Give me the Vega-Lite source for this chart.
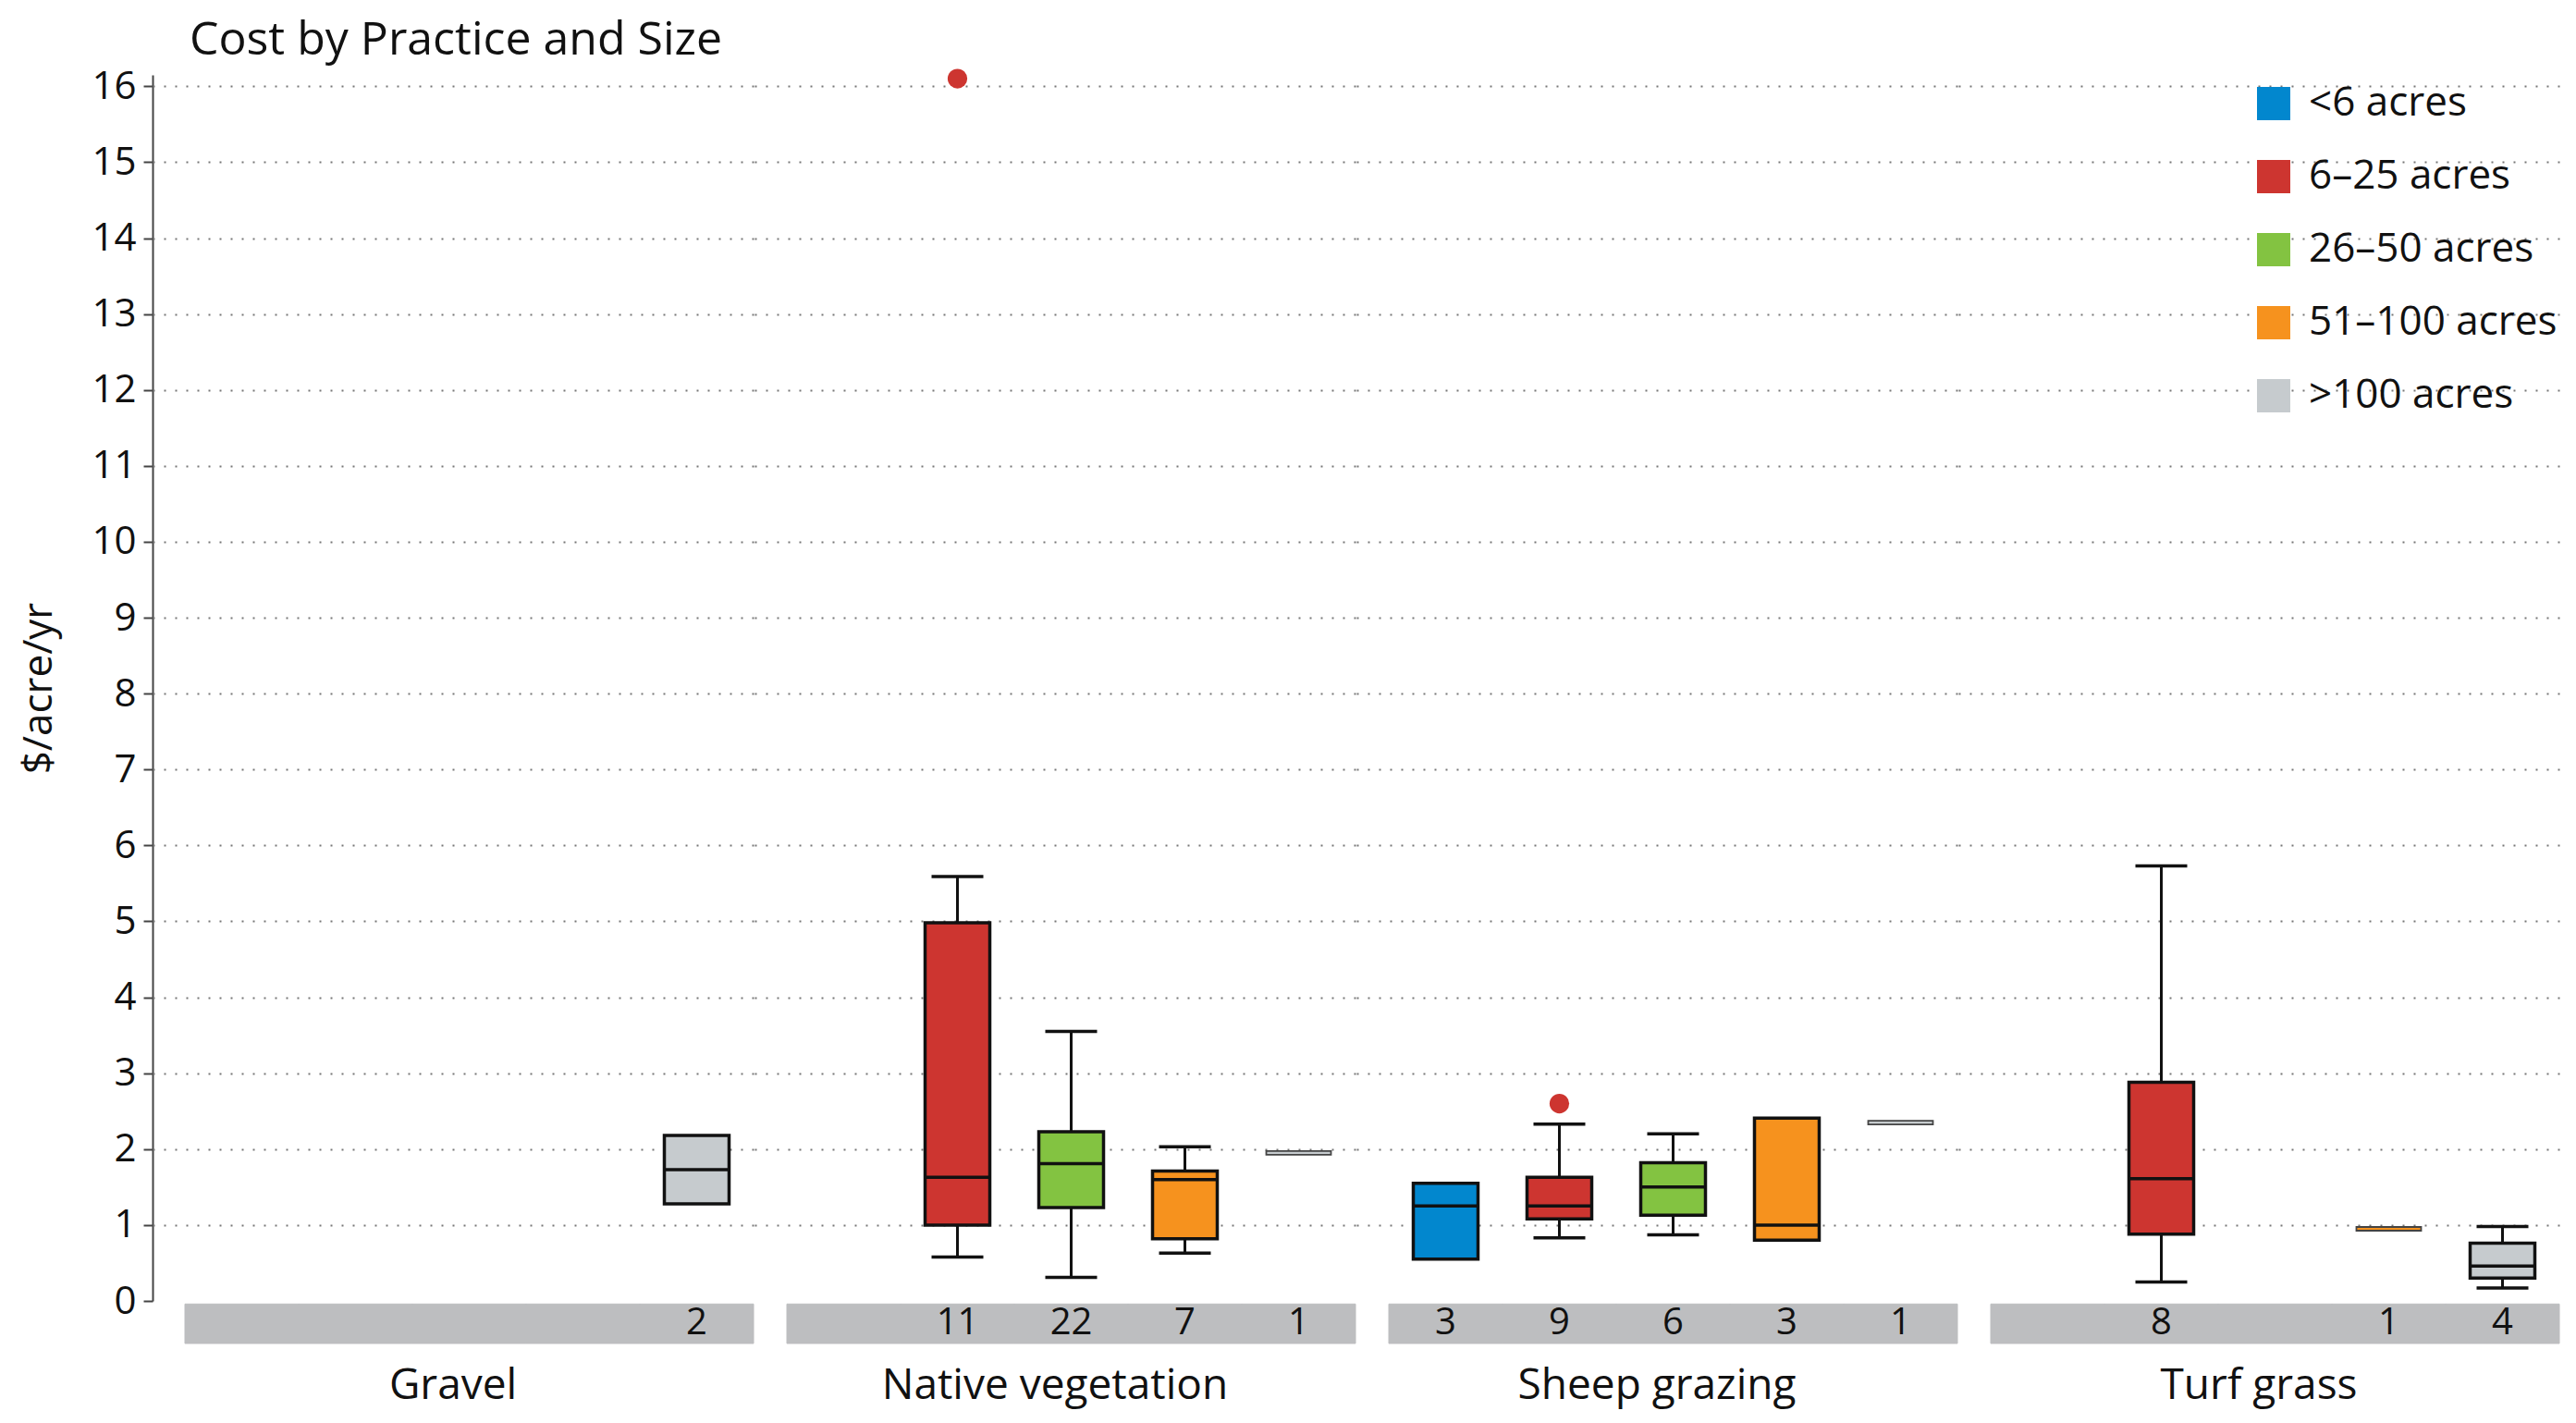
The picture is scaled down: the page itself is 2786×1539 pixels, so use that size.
{
  "$schema": "https://vega.github.io/schema/vega-lite/v6.json",
  "padding": {"left": 20, "top": 19, "right": 9, "bottom": 10},
  "background": "white",
  "config": {
    "font": "Open Sans",
    "view": {"stroke": null},
    "axisY": {
      "grid": true,
      "gridDash": [2, 10],
      "gridColor": "#777",
      "gridWidth": 2,
      "domainColor": "#444",
      "domainWidth": 2,
      "tickColor": "#444",
      "tickWidth": 2,
      "tickSize": 10,
      "labelFontSize": 42,
      "labelColor": "#111",
      "labelPadding": 8,
      "titleFontSize": 44,
      "titleFontWeight": "normal",
      "titleColor": "#111",
      "titlePadding": 34
    }
  },
  "title": {
    "text": "Cost by Practice and Size",
    "anchor": "start",
    "fontSize": 50,
    "fontWeight": "normal",
    "color": "#111",
    "offset": 3,
    "dx": 184
  },
  "data": {
    "values": [
      {"practice": "Gravel", "size": "<6 acres"},
      {"practice": "Gravel", "size": "6–25 acres"},
      {"practice": "Gravel", "size": "26–50 acres"},
      {"practice": "Gravel", "size": "51–100 acres"},
      {"practice": "Gravel", "size": ">100 acres", "n": 2, "q1": 1.28, "med": 1.73, "q3": 2.18},
      {"practice": "Native vegetation", "size": "<6 acres"},
      {"practice": "Native vegetation", "size": "6–25 acres", "n": 11, "lo": 0.58, "q1": 1.0, "med": 1.63, "q3": 4.98, "hi": 5.59, "outlier": 16.1},
      {"practice": "Native vegetation", "size": "26–50 acres", "n": 22, "lo": 0.31, "q1": 1.23, "med": 1.81, "q3": 2.23, "hi": 3.55},
      {"practice": "Native vegetation", "size": "51–100 acres", "n": 7, "lo": 0.63, "q1": 0.82, "med": 1.6, "q3": 1.71, "hi": 2.03},
      {"practice": "Native vegetation", "size": ">100 acres", "n": 1, "med": 1.95},
      {"practice": "Sheep grazing", "size": "<6 acres", "n": 3, "q1": 0.55, "med": 1.25, "q3": 1.55},
      {"practice": "Sheep grazing", "size": "6–25 acres", "n": 9, "lo": 0.83, "q1": 1.08, "med": 1.25, "q3": 1.63, "hi": 2.33, "outlier": 2.6},
      {"practice": "Sheep grazing", "size": "26–50 acres", "n": 6, "lo": 0.87, "q1": 1.13, "med": 1.5, "q3": 1.82, "hi": 2.2},
      {"practice": "Sheep grazing", "size": "51–100 acres", "n": 3, "q1": 0.8, "med": 1.0, "q3": 2.41},
      {"practice": "Sheep grazing", "size": ">100 acres", "n": 1, "med": 2.35},
      {"practice": "Turf grass", "size": "<6 acres"},
      {"practice": "Turf grass", "size": "6–25 acres", "n": 8, "lo": 0.25, "q1": 0.88, "med": 1.61, "q3": 2.88, "hi": 5.73},
      {"practice": "Turf grass", "size": "26–50 acres"},
      {"practice": "Turf grass", "size": "51–100 acres", "n": 1, "med": 0.95},
      {"practice": "Turf grass", "size": ">100 acres", "n": 4, "lo": 0.17, "q1": 0.3, "med": 0.46, "q3": 0.76, "hi": 0.98}
    ]
  },
  "spacing": 0,
  "facet": {
    "column": {
      "field": "practice",
      "type": "nominal",
      "header": {
        "title": null,
        "labelOrient": "bottom",
        "labelFontSize": 46,
        "labelColor": "#111",
        "labelPadding": 23
      }
    }
  },
  "spec": {
    "width": 650,
    "height": 1326,
    "layer": [
      {
        "mark": {"type": "bar", "color": "#bdbec0", "stroke": "#bdbec0", "strokeWidth": 1},
        "encoding": {
          "x": {"field": "size", "type": "nominal", "axis": null, "scale": {"domain": ["<6 acres", "6–25 acres", "26–50 acres", "51–100 acres", ">100 acres"], "paddingInner": 0, "paddingOuter": 0.1423, "align": 1}},
          "y": {"datum": -0.04, "type": "quantitative", "scale": {"domain": [0, 16.15], "nice": false, "zero": true}, "axis": {"title": "$/acre/yr", "format": "d", "values": [0, 1, 2, 3, 4, 5, 6, 7, 8, 9, 10, 11, 12, 13, 14, 15, 16], "gridOpacity": {"condition": {"test": "datum.value === 0", "value": 0}, "value": 1}}},
          "y2": {"datum": -0.56}
        }
      },
      {
        "transform": [{"filter": "isValid(datum.lo)"}],
        "mark": {"type": "rule", "strokeWidth": 3, "color": "#111"},
        "encoding": {
          "x": {"field": "size", "type": "nominal"},
          "y": {"field": "lo", "type": "quantitative"},
          "y2": {"field": "q1"}
        }
      },
      {
        "transform": [{"filter": "isValid(datum.hi)"}],
        "mark": {"type": "rule", "strokeWidth": 3, "color": "#111"},
        "encoding": {
          "x": {"field": "size", "type": "nominal"},
          "y": {"field": "q3", "type": "quantitative"},
          "y2": {"field": "hi"}
        }
      },
      {
        "transform": [{"filter": "isValid(datum.lo)"}],
        "mark": {"type": "tick", "size": 56, "thickness": 3.5, "color": "#111", "opacity": 1},
        "encoding": {
          "x": {"field": "size", "type": "nominal"},
          "y": {"field": "lo", "type": "quantitative"}
        }
      },
      {
        "transform": [{"filter": "isValid(datum.hi)"}],
        "mark": {"type": "tick", "size": 56, "thickness": 3.5, "color": "#111", "opacity": 1},
        "encoding": {
          "x": {"field": "size", "type": "nominal"},
          "y": {"field": "hi", "type": "quantitative"}
        }
      },
      {
        "transform": [{"filter": "datum.n > 1"}],
        "mark": {"type": "bar", "size": 70, "stroke": "#111", "strokeWidth": 3.5},
        "encoding": {
          "x": {"field": "size", "type": "nominal"},
          "y": {"field": "q1", "type": "quantitative"},
          "y2": {"field": "q3"},
          "color": {
            "field": "size",
            "type": "nominal",
            "scale": {"domain": ["<6 acres", "6–25 acres", "26–50 acres", "51–100 acres", ">100 acres"], "range": ["#0287ce", "#cd3530", "#83c341", "#f6921e", "#c6cbce"]},
            "legend": {"title": null, "orient": "none", "legendX": 2272, "legendY": 9, "symbolType": "square", "symbolSize": 1296, "symbolStrokeWidth": 0, "symbolOpacity": 1, "labelFontSize": 44, "labelColor": "#111", "labelOffset": 16, "labelLimit": 500, "rowPadding": 35}
          }
        }
      },
      {
        "transform": [{"filter": "datum.n > 1"}],
        "mark": {"type": "tick", "size": 70, "thickness": 3.5, "color": "#111", "opacity": 1},
        "encoding": {
          "x": {"field": "size", "type": "nominal"},
          "y": {"field": "med", "type": "quantitative"}
        }
      },
      {
        "transform": [{"filter": "datum.n === 1"}],
        "mark": {"type": "tick", "size": 70, "thickness": 4, "stroke": "#444", "strokeWidth": 1.8, "opacity": 1},
        "encoding": {
          "x": {"field": "size", "type": "nominal"},
          "y": {"field": "med", "type": "quantitative"},
          "color": {
            "field": "size",
            "type": "nominal",
            "legend": {"title": null, "orient": "none", "legendX": 2272, "legendY": 9, "symbolType": "square", "symbolSize": 1296, "symbolStrokeWidth": 0, "symbolOpacity": 1, "labelFontSize": 44, "labelColor": "#111", "labelOffset": 16, "labelLimit": 500, "rowPadding": 35}
          }
        }
      },
      {
        "transform": [{"filter": "isValid(datum.outlier)"}],
        "mark": {"type": "circle", "size": 450, "opacity": 1},
        "encoding": {
          "x": {"field": "size", "type": "nominal"},
          "y": {"field": "outlier", "type": "quantitative"},
          "color": {
            "field": "size",
            "type": "nominal",
            "legend": {"title": null, "orient": "none", "legendX": 2272, "legendY": 9, "symbolType": "square", "symbolSize": 1296, "symbolStrokeWidth": 0, "symbolOpacity": 1, "labelFontSize": 44, "labelColor": "#111", "labelOffset": 16, "labelLimit": 500, "rowPadding": 35}
          }
        }
      },
      {
        "transform": [{"filter": "isValid(datum.n)"}],
        "mark": {"type": "text", "fontSize": 40, "color": "#111", "baseline": "middle"},
        "encoding": {
          "x": {"field": "size", "type": "nominal"},
          "y": {"datum": -0.29, "type": "quantitative"},
          "text": {"field": "n", "type": "quantitative"}
        }
      }
    ]
  }
}
